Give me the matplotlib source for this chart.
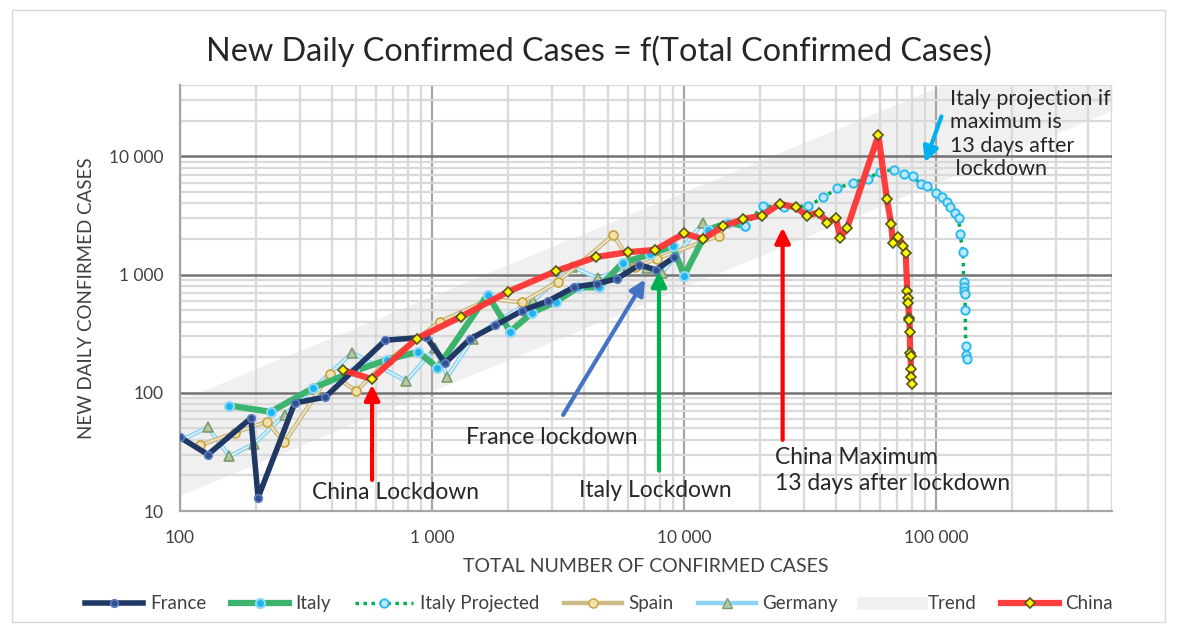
import matplotlib
matplotlib.use("Agg")
import matplotlib.pyplot as plt
from matplotlib.lines import Line2D
from matplotlib.patches import Rectangle
from matplotlib.ticker import FixedLocator, FixedFormatter, NullFormatter

plt.rcParams['font.family'] = ['Lato', 'DejaVu Sans']

# data: total confirmed cases (x) vs new daily cases (y)
france_total = [100, 129, 191, 204, 285, 377, 653, 949, 1126, 1412, 1784, 2281,
                2876, 3661, 4499, 5423, 6633, 7730, 9134]
france_new = [42, 30, 61, 13, 82, 92, 279, 296, 178, 285, 372, 497,
              595, 785, 838, 924, 1210, 1097, 1404]

italy_total = [157, 229, 337, 490, 660, 880, 1050, 1660, 2040, 2500, 3100, 3800,
               4600, 5700, 7300, 9000, 10000, 12400, 15000, 17400]
italy_new = [78, 69, 110, 152, 190, 222, 163, 676, 330, 478, 590, 780,
             780, 1260, 1480, 1740, 980, 2400, 2750, 2570]

proj_total = [17400, 20500, 25000, 31000, 35700, 40500, 46600, 53500, 60000, 68000,
              74500, 81000, 87000, 92000, 100000, 106000, 110000, 114000, 119000,
              123000, 124500, 128000, 128500, 129000, 129500, 130000, 130500,
              131000, 131500, 132000]
proj_new = [2570, 3800, 3730, 3800, 4500, 5370, 6000, 6500, 7400, 7750,
            7050, 6800, 5800, 5600, 4900, 4500, 4100, 3700, 3350,
            3030, 2200, 1540, 870, 790, 720, 680, 500,
            250, 210, 195]

spain_total = [120, 165, 221, 259, 394, 500, 673, 1073, 1695, 2277, 3146, 5232,
               6391, 7798, 13800]
spain_new = [36, 46, 57, 38, 145, 104, 190, 400, 622, 582, 869, 2150,
             1159, 1365, 2140]

germany_total = [79, 129, 157, 196, 260, 482, 790, 1030, 1150, 1450, 1900, 2520,
                 3600, 4550, 6000, 7156, 8198, 11900]
germany_new = [31, 51, 29, 37, 65, 218, 126, 240, 137, 288, 430, 600,
               1170, 930, 1174, 1144, 1042, 2750]

china_total = [445, 575, 870, 1300, 2000, 3100, 4480, 6000, 7700, 10000, 11900,
               14300, 17200, 20400, 24000, 27800, 30700, 34300, 37000, 40000,
               41700, 44400, 59000, 63800, 66300, 67400, 70600, 74200, 75800,
               76800, 77200, 77600, 78000, 78300, 78600, 78900, 79200, 79500,
               79800, 80100]
china_new = [155, 131, 288, 440, 716, 1070, 1410, 1550, 1620, 2230, 2000,
             2570, 2960, 3160, 3970, 3700, 3160, 3350, 2760, 3020,
             2040, 2500, 15100, 4350, 2690, 1860, 2090, 1760, 1510,
             725, 640, 575, 430, 410, 330, 218, 204, 158,
             136, 119]

# trend band (power law, straight on log-log)
trend_x = [100, 500000]
trend_low = [13.6, 24500]
trend_high = [87, 157000]

fig = plt.figure(figsize=(11.77, 6.27), dpi=100)
fig.patches.append(Rectangle((0.010, 0.008), 0.980, 0.976, transform=fig.transFigure,
                             fill=False, edgecolor='#d9d9d9', linewidth=1))
ax = fig.add_axes([0.153, 0.185, 0.792, 0.679])
ax.set_xscale('log')
ax.set_yscale('log')
ax.set_xlim(100, 500000)
ax.set_ylim(10, 40000)

# grid
ax.set_axisbelow(True)
ax.xaxis.grid(True, which='minor', color='#d9d9d9', linewidth=1.6)
ax.xaxis.grid(True, which='major', color='#a6a6a6', linewidth=1.6)
ax.yaxis.grid(True, which='minor', color='#d9d9d9', linewidth=1.6)
ax.yaxis.grid(True, which='major', color='#737373', linewidth=1.8)
for s in ['top', 'right']:
    ax.spines[s].set_visible(False)
ax.spines['left'].set_color('#a6a6a6')
ax.spines['left'].set_linewidth(1.6)
ax.spines['bottom'].set_color('#a6a6a6')
ax.spines['bottom'].set_linewidth(1.6)
ax.tick_params(which='both', length=0)

ax.xaxis.set_major_locator(FixedLocator([100, 1000, 10000, 100000]))
ax.xaxis.set_major_formatter(FixedFormatter(['100', '1 000', '10 000', '100 000']))
ax.xaxis.set_minor_formatter(NullFormatter())
ax.yaxis.set_major_locator(FixedLocator([10, 100, 1000, 10000]))
ax.yaxis.set_major_formatter(FixedFormatter(['10', '100', '1 000', '10 000']))
ax.yaxis.set_minor_formatter(NullFormatter())
ax.tick_params(axis='both', labelsize=12.5, labelcolor='#404040')
ax.tick_params(axis='x', pad=14)
ax.tick_params(axis='y', pad=12)

trend = ax.fill_between(trend_x, trend_low, trend_high, color='#f0f0f0',
                        linewidth=0, zorder=0.3)

# series
ax.plot(germany_total, germany_new, color='#8fd3f2', lw=3.2, zorder=2)
ax.plot(germany_total, germany_new, color='#e6f6fd', lw=1.0, zorder=2.1)
ax.plot(germany_total, germany_new, ls='none', marker='^', ms=6.5,
        mfc='#b3c9a3', mec='#7f9a6e', mew=1.2, zorder=2.2)
ax.plot(spain_total, spain_new, color='#cdbb86', lw=3.2, zorder=2.3)
ax.plot(spain_total, spain_new, color='#f3ecd8', lw=1.0, zorder=2.4)
ax.plot(spain_total, spain_new, ls='none', marker='o', ms=6.5,
        mfc='#efe0b0', mec='#c8a43a', mew=1.2, zorder=2.5)
italy, = ax.plot(italy_total, italy_new, color='#3cb46e', lw=4.5, marker='o', ms=6.5,
                 mfc='#1cb5ee', mec='#8fd8f5', mew=1.5, zorder=3)
proj, = ax.plot(proj_total, proj_new, color='#00b050', lw=2.5, ls=(0, (1, 1.3)),
                marker='o', ms=6, mfc='#bfe9fa', mec='#29b9f0', mew=1.4, zorder=3.1)
france, = ax.plot(france_total, france_new, color='#203864', lw=4, marker='o', ms=5.5,
                  mfc='#2f4f8f', mec='#5b7cc0', mew=1.2, zorder=3.5)
china, = ax.plot(china_total, china_new, color='#ff3333', lw=4.5, alpha=0.95,
                 marker='D', ms=5.5, mfc='#ffff00', mec='#4d4d1a', mew=1.2, zorder=4)

# annotations
def arrow(tail, head, color):
    ax.annotate('', xy=head, xytext=tail,
                arrowprops=dict(arrowstyle='-|>,head_width=0.45,head_length=0.9',
                                lw=3, color=color, shrinkA=0, shrinkB=0), zorder=5)

arrow((578, 18.3), (578, 117), '#ff0000')
arrow((3310, 65), (7000, 910), '#4472c4')
arrow((7950, 22), (7950, 1070), '#00b050')
arrow((24600, 40), (24600, 2500), '#ff0000')
arrow((105000, 21800), (90400, 8900), '#00b0f0')

ax.text(713, 14.4, 'China Lockdown', fontsize=16.4, ha='center', va='center', color='#262626')
ax.text(2990, 41.6, 'France lockdown', fontsize=16.4, ha='center', va='center', color='#262626')
ax.text(7670, 15.0, 'Italy Lockdown', fontsize=16.4, ha='center', va='center', color='#262626')
ax.text(23000, 22, 'China Maximum\n13 days after lockdown', fontsize=16.4, ha='left',
        va='center', color='#262626', linespacing=1.3)
ax.text(114000, 37000, 'Italy projection if\nmaximum is\n13 days after\n lockdown',
        fontsize=15.5, ha='left', va='top', color='#262626', linespacing=1.2)

fig.text(0.509, 0.918, 'New Daily Confirmed Cases = f(Total Confirmed Cases)',
         ha='center', va='center', fontsize=23.3, color='#262626')
ax.set_xlabel('TOTAL NUMBER OF CONFIRMED CASES', fontsize=14, color='#404040', labelpad=8)
ax.set_ylabel('NEW DAILY CONFIRMED CASES', fontsize=13.5, color='#404040', labelpad=10)

trend_handle = Line2D([], [], color='#f0f0f0', lw=9)
germany_handle = Line2D([], [], color='#8fd3f2', lw=3.2, marker='^', ms=6.5,
                        mfc='#b3c9a3', mec='#7f9a6e')
spain_handle = Line2D([], [], color='#cdbb86', lw=3.2, marker='o', ms=6.5,
                      mfc='#efe0b0', mec='#c8a43a')
fig.legend([france, italy, proj, spain_handle, germany_handle, trend_handle, china],
           ['France', 'Italy', 'Italy Projected', 'Spain', 'Germany', 'Trend', 'China'],
           loc='center', bbox_to_anchor=(0.509, 0.037), ncol=7, frameon=False,
           fontsize=13.5, handlelength=3.1, handletextpad=0.35, columnspacing=1.3,
           labelcolor='#404040')

fig.savefig('out.png', dpi=100)
